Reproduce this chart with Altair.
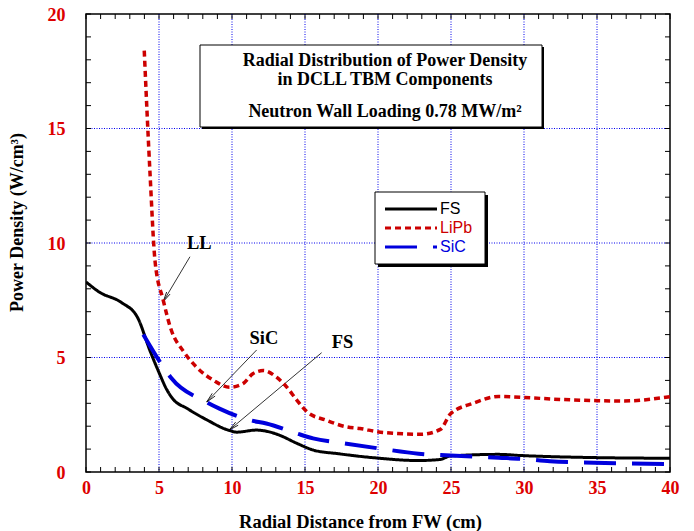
import math
import altair as alt
import pandas as pd

# ---------------- data ----------------
series_names = ["FS", "LiPb", "SiC"]
series_colors = ["#000000", "#cc0000", "#0000dd"]
series_dash = [[1, 0], [6, 4], [32, 16]]
series_width = [3, 3.5, 4]

fs_x = [0.0, 0.93, 2.43, 3.53, 4.38, 5.03, 5.53, 5.94, 6.94, 8.24, 9.74, 10.34, 11.64, 12.74, 13.24, 14.45, 15.55, 17.26, 19.76, 22.77, 24.27, 24.97, 28.27, 29.78, 34.79, 40.0]
fs_y = [8.3, 7.85, 7.4, 6.75, 5.3, 4.3, 3.6, 3.2, 2.77, 2.29, 1.83, 1.74, 1.83, 1.72, 1.61, 1.25, 0.96, 0.8, 0.62, 0.5, 0.55, 0.7, 0.77, 0.72, 0.63, 0.6]

lipb_x = [3.99, 4.38, 4.73, 5.29, 5.84, 6.64, 7.54, 8.74, 9.84, 10.75, 11.45, 12.15, 13.05, 13.75, 14.45, 15.15, 16.45, 17.86, 18.76, 20.16, 22.97, 24.27, 24.97, 26.52, 28.27, 29.78, 32.48, 34.79, 36.79, 40.0]
lipb_y = [18.4, 13.1, 9.2, 7.5, 6.2, 5.3, 4.6, 4.0, 3.7, 3.86, 4.3, 4.43, 4.14, 3.71, 3.13, 2.62, 2.26, 1.97, 1.9, 1.74, 1.65, 1.86, 2.54, 3.0, 3.3, 3.26, 3.17, 3.12, 3.1, 3.29]

sic_x = [3.93, 5.23, 5.84, 8.24, 9.14, 11.25, 12.35, 14.45, 15.55, 17.66, 20.16, 22.77, 24.97, 28.27, 29.78, 31.78, 34.79, 40.0]
sic_y = [6.0, 4.65, 4.1, 3.06, 2.77, 2.26, 2.12, 1.68, 1.47, 1.25, 1.02, 0.8, 0.72, 0.62, 0.58, 0.47, 0.4, 0.35]

x_ticks = [0, 5, 10, 15, 20, 25, 30, 35, 40]
y_ticks = [0, 5, 10, 15, 20]

ann_labels = ["LL", "SiC", "FS"]
ann_label_x = [7.76, 12.19, 17.57]
ann_label_y = [9.99, 5.84, 5.69]
ann_tail_x = [7.12, 11.69, 16.14]
ann_tail_y = [9.40, 5.33, 5.21]
ann_tip_x = [5.29, 8.27, 9.81]
ann_tip_y = [7.44, 3.06, 1.83]

title_lines = ["Radial Distribution of Power Density", "in DCLL TBM Components", "Neutron Wall Loading 0.78 MW/m\u00b2"]

# ---------------- layout ----------------
W, H = 584, 458
XMAX, YMAX = 40, 20
px_x = W / XMAX
px_y = H / YMAX

rows = []
for name, xs_, ys_ in [("FS", fs_x, fs_y), ("LiPb", lipb_x, lipb_y), ("SiC", sic_x, sic_y)]:
    for i, (a, b) in enumerate(zip(xs_, ys_)):
        rows.append({"series": name, "x": a, "y": b, "i": i})
lines_df = pd.DataFrame(rows)

xs = alt.Scale(domain=[0, XMAX], nice=False, zero=False)
ys = alt.Scale(domain=[0, YMAX], nice=False, zero=False)

serif = "Liberation Serif"
sans = "Liberation Sans"
red = "#dd0000"

# grid
grid_x = pd.DataFrame({"x": x_ticks[1:-1]})
grid_y = pd.DataFrame({"y": y_ticks[1:-1]})
gx = alt.Chart(grid_x).mark_rule(color="#0000ee", strokeWidth=1, strokeDash=[1, 1.5]).encode(
    x=alt.X("x:Q", scale=xs))
gy = alt.Chart(grid_y).mark_rule(color="#0000ee", strokeWidth=1, strokeDash=[1, 1.5]).encode(
    y=alt.Y("y:Q", scale=ys))

# minor ticks (inward) on all sides
tx = pd.DataFrame({"x": list(range(0, XMAX + 1))})
ty = pd.DataFrame({"y": list(range(0, YMAX + 1))})
tick_style = dict(color="black", strokeWidth=1)
t_bottom = alt.Chart(tx).mark_rule(**tick_style).encode(
    x=alt.X("x:Q", scale=xs), y=alt.value(H), y2=alt.value(H - 5))
t_top = alt.Chart(tx).mark_rule(**tick_style).encode(
    x=alt.X("x:Q", scale=xs), y=alt.value(0), y2=alt.value(5))
t_left = alt.Chart(ty).mark_rule(**tick_style).encode(
    y=alt.Y("y:Q", scale=ys), x=alt.value(0), x2=alt.value(5))
t_right = alt.Chart(ty).mark_rule(**tick_style).encode(
    y=alt.Y("y:Q", scale=ys), x=alt.value(W), x2=alt.value(W - 5))

# axes carrier (labels and titles)
axes_df = pd.DataFrame({"x": [0], "y": [0]})
axes = alt.Chart(axes_df).mark_point(opacity=0).encode(
    x=alt.X("x:Q", scale=xs, axis=alt.Axis(
        values=x_ticks, grid=False, ticks=False, domain=False,
        labelFont=serif, labelFontWeight="bold", labelFontSize=18, labelColor=red,
        labelPadding=7, labelFlush=False,
        title="Radial Distance from FW (cm)", titleFont=serif, titleFontWeight="bold",
        titleFontSize=18.5, titleColor="black", titleX=274, titleY=49, titleBaseline="middle")),
    y=alt.Y("y:Q", scale=ys, axis=alt.Axis(
        values=y_ticks, grid=False, ticks=False, domain=False,
        labelFont=serif, labelFontWeight="bold", labelFontSize=18, labelColor=red,
        labelPadding=21, labelFlush=False, labelOffset=1,
        title="Power Density (W/cm\u00b3)", titleFont=serif, titleFontWeight="bold",
        titleFontSize=18, titleColor="black", titleX=-69, titleY=208, titleBaseline="middle")),
)

# series lines
color_enc = alt.Color("series:N", scale=alt.Scale(domain=series_names, range=series_colors), legend=None)
dash_enc = alt.StrokeDash("series:N", scale=alt.Scale(domain=series_names, range=series_dash), legend=None)

series_layers = []
for name, width in zip(series_names, series_width):
    series_layers.append(
        alt.Chart(lines_df).transform_filter(alt.datum.series == name).mark_line(
            strokeWidth=width, interpolate="monotone", clip=True).encode(
            x=alt.X("x:Q", scale=xs), y=alt.Y("y:Q", scale=ys),
            color=color_enc, strokeDash=dash_enc, order="i:Q"))
l_fs, l_lipb, l_sic = series_layers

# legend (drawn manually to match the boxed, shadowed original)
LX0, LY0, LX1, LY1 = 289, 178, 399, 250
legend_layers = [
    alt.Chart(axes_df).mark_rect(color="black").encode(
        x=alt.value(LX0 + 3), x2=alt.value(LX1 + 3), y=alt.value(LY0 + 3), y2=alt.value(LY1 + 3)),
    alt.Chart(axes_df).mark_rect(fill="white", stroke="black", strokeWidth=1).encode(
        x=alt.value(LX0), x2=alt.value(LX1), y=alt.value(LY0), y2=alt.value(LY1)),
]
for k, (name, col, dash) in enumerate(zip(series_names, series_colors, series_dash)):
    ry = 195 + 19 * k
    legend_layers.append(alt.Chart(axes_df).mark_rule(
        color=col, strokeWidth=3.2, strokeDash=dash, strokeCap="butt").encode(
        x=alt.value(299), x2=alt.value(351), y=alt.value(ry)))
    legend_layers.append(alt.Chart(axes_df).mark_text(
        text=name, font=sans, fontSize=16, color=col, align="left", baseline="middle").encode(
        x=alt.value(354), y=alt.value(ry)))

# annotations
ann_rows = []
for lab, lx, ly, ax_, ay_, bx, by in zip(ann_labels, ann_label_x, ann_label_y, ann_tail_x, ann_tail_y, ann_tip_x, ann_tip_y):
    dxp = (bx - ax_) * px_x
    dyp = -(by - ay_) * px_y
    ang = math.degrees(math.atan2(dxp, -dyp)) % 360
    ann_rows.append({"label": lab, "lx": lx, "ly": ly, "x": ax_, "y": ay_, "x2": bx, "y2": by, "angle": ang})
ann_df = pd.DataFrame(ann_rows)

ann_lines = alt.Chart(ann_df).mark_rule(color="black", strokeWidth=0.8).encode(
    x=alt.X("x:Q", scale=xs), y=alt.Y("y:Q", scale=ys), x2="x2:Q", y2="y2:Q")
ann_heads = alt.Chart(ann_df).mark_point(
    shape="M-0.4,2 L0,0 L0.4,2", filled=False, color="black", strokeWidth=0.8, size=100, opacity=1).encode(
    x=alt.X("x2:Q", scale=xs), y=alt.Y("y2:Q", scale=ys), angle=alt.Angle("angle:Q", scale=None))
ann_text = alt.Chart(ann_df).mark_text(
    font=serif, fontWeight="bold", fontSize=18.5, color="black", baseline="middle", align="center").encode(
    x=alt.X("lx:Q", scale=xs), y=alt.Y("ly:Q", scale=ys), text="label:N")

# title box
title_df = pd.DataFrame({"t": title_lines, "ty": [47.0, 66.0, 97.7]})
tb_shadow = alt.Chart(axes_df).mark_rect(color="black").encode(
    x=alt.value(116), x2=alt.value(458), y=alt.value(33), y2=alt.value(115))
tb_box = alt.Chart(axes_df).mark_rect(fill="white", stroke="black", strokeWidth=1).encode(
    x=alt.value(114), x2=alt.value(456), y=alt.value(31), y2=alt.value(113))
tb_text = alt.Chart(title_df).mark_text(
    font=serif, fontWeight="bold", fontSize=18, color="black", baseline="middle", align="center").encode(
    x=alt.value(299), y=alt.Y("ty:Q", scale=None), text="t:N")

chart = alt.layer(
    gx, gy, axes, t_bottom, t_top, t_left, t_right,
    ann_lines, ann_heads, ann_text,
    l_fs, l_sic, l_lipb,
    *legend_layers,
    tb_shadow, tb_box, tb_text,
).properties(
    width=W, height=H,
    autosize=alt.AutoSizeParams(type="none"),
    padding={"left": 78, "top": 6, "right": 16, "bottom": 62},
).configure_view(stroke="black", strokeWidth=1.5)

chart.save("out.html", embed_options={"renderer": "svg", "actions": False})
